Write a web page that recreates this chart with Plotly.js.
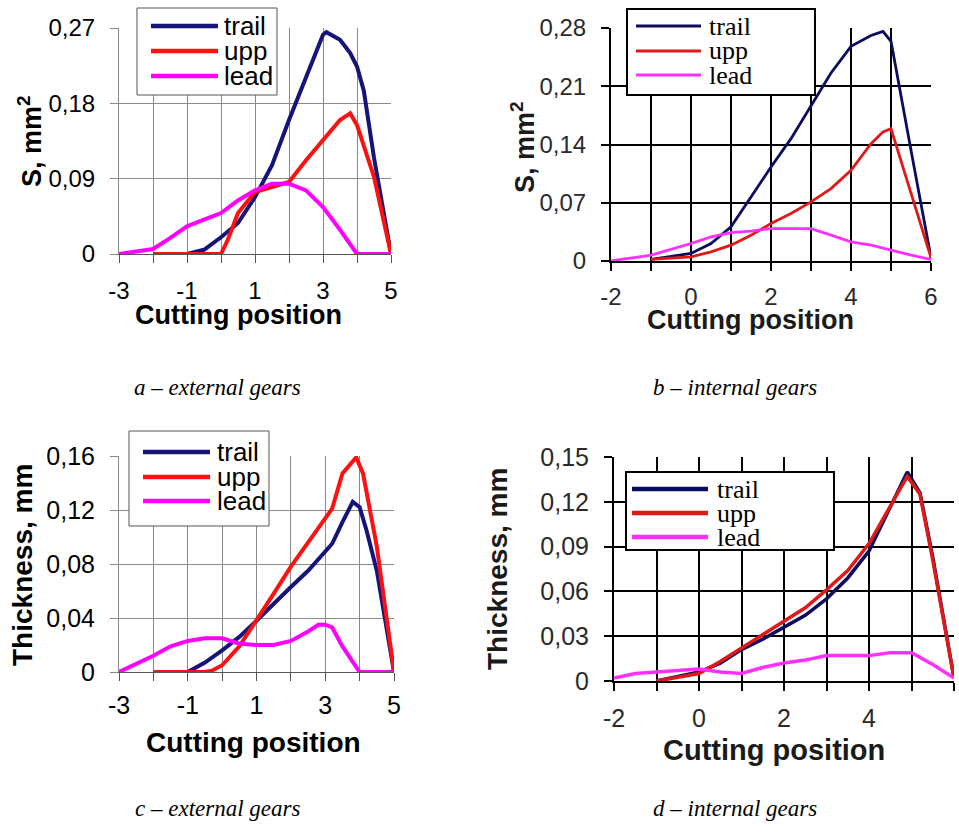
<!DOCTYPE html>
<html>
<head>
<meta charset="utf-8">
<script src="https://cdn.plot.ly/plotly-3.0.1.min.js"></script>
<style>html,body{margin:0;padding:0;background:#fff;}#chart{width:959px;height:833px;}</style>
</head>
<body>
<div id="chart"></div>
<script>
// ---------- Data ----------
const seriesNames = ['trail', 'upp', 'lead'];

// Panel a: external gears, S (mm^2)
const aTrailX = [-1, -0.5, 0, 0.5, 1, 1.5, 2, 2.5, 2.8, 3, 3.1, 3.5, 3.8, 4, 4.2, 4.5, 5];
const aTrailY = [0, 0.005, 0.020, 0.037, 0.068, 0.106, 0.160, 0.211, 0.243, 0.262, 0.265, 0.256, 0.240, 0.224, 0.195, 0.115, 0];
const aUppX = [-2, -1, 0, 0.2, 0.5, 1, 1.5, 2, 2.5, 3, 3.5, 3.8, 4, 4.5, 5];
const aUppY = [0, 0, 0, 0.017, 0.049, 0.074, 0.080, 0.086, 0.112, 0.136, 0.160, 0.168, 0.154, 0.092, 0];
const aLeadX = [-3, -2.5, -2, -1.5, -1, -0.5, 0, 0.5, 1, 1.5, 2, 2.5, 3, 3.5, 4, 4.5, 5];
const aLeadY = [0, 0.003, 0.006, 0.019, 0.033, 0.041, 0.049, 0.064, 0.076, 0.084, 0.084, 0.076, 0.056, 0.029, 0, 0, 0];

// Panel b: internal gears, S (mm^2)
const bTrailX = [-1, 0, 0.5, 1, 1.5, 2, 2.5, 3, 3.5, 4, 4.5, 4.8, 5, 5.5, 6];
const bTrailY = [0.002, 0.009, 0.021, 0.041, 0.077, 0.113, 0.147, 0.186, 0.226, 0.258, 0.271, 0.276, 0.264, 0.133, 0.004];
const bUppX = [-1, 0, 0.5, 1, 1.5, 2, 2.5, 3, 3.5, 4, 4.5, 4.8, 5, 5.5, 6];
const bUppY = [0.002, 0.005, 0.011, 0.019, 0.031, 0.045, 0.057, 0.071, 0.087, 0.109, 0.141, 0.155, 0.159, 0.081, 0.004];
const bLeadX = [-2, -1, 0, 0.5, 1, 1.5, 2, 2.5, 3, 3.5, 4, 4.5, 5, 5.5, 6];
const bLeadY = [0, 0.007, 0.021, 0.029, 0.034, 0.036, 0.039, 0.039, 0.039, 0.031, 0.023, 0.019, 0.013, 0.007, 0.002];

// Panel c: external gears, thickness (mm)
const cTrailX = [-1, -0.5, 0, 0.5, 1, 1.5, 2, 2.5, 3, 3.2, 3.5, 3.8, 4, 4.2, 4.5, 5];
const cTrailY = [0, 0.007, 0.016, 0.026, 0.038, 0.051, 0.063, 0.075, 0.089, 0.095, 0.111, 0.126, 0.122, 0.105, 0.075, 0];
const cUppX = [-2, -0.5, -0.3, 0, 0.5, 1, 1.5, 2, 2.5, 3, 3.2, 3.5, 3.9, 4.1, 4.5, 5];
const cUppY = [0, 0, 0.001, 0.005, 0.019, 0.038, 0.058, 0.078, 0.096, 0.114, 0.121, 0.147, 0.159, 0.147, 0.093, 0];
const cLeadX = [-3, -2.5, -2, -1.5, -1, -0.5, 0, 0.5, 1, 1.5, 2, 2.5, 2.8, 3, 3.2, 3.5, 4, 4.5, 5];
const cLeadY = [0, 0.006, 0.012, 0.019, 0.023, 0.025, 0.025, 0.021, 0.020, 0.020, 0.023, 0.030, 0.035, 0.035, 0.033, 0.019, 0, 0, 0];

// Panel d: internal gears, thickness (mm)
const dTrailX = [-1, 0, 0.5, 1, 1.5, 2, 2.5, 3, 3.5, 4, 4.5, 4.9, 5.2, 5.5, 6];
const dTrailY = [0, 0.006, 0.012, 0.021, 0.028, 0.036, 0.044, 0.055, 0.069, 0.087, 0.116, 0.140, 0.126, 0.083, 0.002];
const dUppX = [-1, 0, 0.5, 1, 1.5, 2, 2.5, 3, 3.5, 4, 4.5, 4.9, 5.2, 5.5, 6];
const dUppY = [0, 0.005, 0.013, 0.022, 0.031, 0.040, 0.049, 0.061, 0.074, 0.092, 0.117, 0.137, 0.125, 0.081, 0.002];
const dLeadX = [-2, -1.5, -1, -0.5, 0, 0.5, 1, 1.5, 2, 2.5, 3, 3.5, 4, 4.5, 5, 5.5, 6];
const dLeadY = [0.002, 0.005, 0.006, 0.007, 0.008, 0.006, 0.005, 0.009, 0.012, 0.014, 0.017, 0.017, 0.017, 0.019, 0.019, 0.011, 0.002];

// Tick labels
const xTicksExt = [-3, -1, 1, 3, 5];
const xTicksExtMinor = [-2, 0, 2, 4];
const xTicksInt = [-2, 0, 2, 4, 6];
const xTicksIntMinor = [-1, 1, 3, 5];
const aYTicks = [0, 0.09, 0.18, 0.27];
const aYText = ['0', '0,09', '0,18', '0,27'];
const bYTicks = [0, 0.07, 0.14, 0.21, 0.28];
const bYText = ['0', '0,07', '0,14', '0,21', '0,28'];
const cYTicks = [0, 0.04, 0.08, 0.12, 0.16];
const cYText = ['0', '0,04', '0,08', '0,12', '0,16'];
const dYTicks = [0, 0.03, 0.06, 0.09, 0.12, 0.15];
const dYText = ['0', '0,03', '0,06', '0,09', '0,12', '0,15'];

const xTitle = 'Cutting position';
const yTitleS = 'S, mm<sup>2</sup>';
const yTitleT = 'Thickness, mm';
const captions = ['a – external gears', 'b – internal gears', 'c – external gears', 'd – internal gears'];

// ---------- Styles ----------
const SANS = 'Liberation Sans, Arial, sans-serif';
const SERIF = 'Liberation Serif, Times New Roman, serif';
const colExt = ['#14147a', '#ff1010', '#ff00ff'];
const colInt = ['#0b0b60', '#e01818', '#ff30ff'];

function mk(x, y, name, color, width, ax) {
  return {x: x, y: y, name: name, type: 'scatter', mode: 'lines', showlegend: false,
    line: {color: color, width: width}, xaxis: 'x' + ax, yaxis: 'y' + ax};
}
const traces = [
  mk(aTrailX, aTrailY, seriesNames[0], colExt[0], 4, ''),
  mk(aUppX, aUppY, seriesNames[1], colExt[1], 4, ''),
  mk(aLeadX, aLeadY, seriesNames[2], colExt[2], 4, ''),
  mk(bTrailX, bTrailY, seriesNames[0], colInt[0], 2.8, '2'),
  mk(bUppX, bUppY, seriesNames[1], colInt[1], 2.8, '2'),
  mk(bLeadX, bLeadY, seriesNames[2], colInt[2], 2.8, '2'),
  mk(cTrailX, cTrailY, seriesNames[0], colExt[0], 4, '3'),
  mk(cUppX, cUppY, seriesNames[1], colExt[1], 4, '3'),
  mk(cLeadX, cLeadY, seriesNames[2], colExt[2], 4, '3'),
  mk(dTrailX, dTrailY, seriesNames[0], colInt[0], 3.5, '4'),
  mk(dUppX, dUppY, seriesNames[1], colInt[1], 3.5, '4'),
  mk(dLeadX, dLeadY, seriesNames[2], colInt[2], 3.5, '4')
];

const W = 959, H = 833;
function px(x) { return x / W; }
function py(y) { return 1 - y / H; }

function xAxis(dom, range, vals, minor, ext, anchor, fs, standoff) {
  const gc = ext ? '#8a8a8a' : '#000', gw = ext ? 1 : 2, tc = ext ? '#555' : '#000';
  return {domain: dom, range: range, anchor: anchor, tickmode: 'array', tickvals: vals, ticktext: vals.map(String),
    showgrid: true, gridcolor: gc, gridwidth: gw,
    minor: {tickmode: 'array', tickvals: minor, showgrid: true, gridcolor: gc, gridwidth: gw,
      ticks: 'outside', ticklen: 8, tickwidth: ext ? 1 : 2, tickcolor: tc},
    zeroline: false, showline: true, linecolor: tc, linewidth: ext ? 1 : 2,
    ticks: 'outside', ticklen: 8, tickwidth: ext ? 1 : 2, tickcolor: tc,
    ticklabelstandoff: standoff,
    tickfont: {family: SANS, size: fs, color: ext ? '#000' : '#2a2a2a'},
    fixedrange: true};
}
function yAxis(dom, range, vals, text, ext, anchor, fs) {
  const gc = ext ? '#8a8a8a' : '#000', tc = ext ? '#8a8a8a' : '#000';
  return {domain: dom, range: range, anchor: anchor, tickmode: 'array', tickvals: vals, ticktext: text,
    showgrid: true, gridcolor: gc, gridwidth: ext ? 1 : 2,
    zeroline: false, showline: true, linecolor: tc, linewidth: ext ? 1 : 2,
    ticks: 'outside', ticklen: 8, tickwidth: ext ? 1 : 2, tickcolor: tc,
    ticklabelstandoff: 10,
    tickfont: {family: SANS, size: fs, color: ext ? '#000' : '#2a2a2a'},
    fixedrange: true};
}
function note(text, x, y, fs, opts) {
  return Object.assign({text: text, xref: 'paper', yref: 'paper', x: px(x), y: py(y), xanchor: 'center', yanchor: 'middle',
    showarrow: false, font: {family: SANS, size: fs, weight: 700, color: '#000'}}, opts || {});
}
function cap(text, x, y) {
  return note(text, x, y, 23, {font: {family: SERIF, size: 23, style: 'italic', color: '#000'}});
}

// Custom legend boxes (drawn like the spreadsheet legends)
const shapes = [], annotations = [];
function legendBox(box, lineX, rowsY, textX, colors, lw, serif, fs, border, bw) {
  shapes.push({type: 'rect', xref: 'paper', yref: 'paper', x0: px(box[0]), x1: px(box[1]), y0: py(box[3]), y1: py(box[2]),
    line: {color: border, width: bw}, fillcolor: '#fff', layer: 'above'});
  for (let i = 0; i < seriesNames.length; i++) {
    shapes.push({type: 'line', xref: 'paper', yref: 'paper', x0: px(lineX[0]), x1: px(lineX[1]), y0: py(rowsY[i]), y1: py(rowsY[i]),
      line: {color: colors[i], width: lw}, layer: 'above'});
    annotations.push({text: seriesNames[i], xref: 'paper', yref: 'paper', x: px(textX), y: py(rowsY[i]),
      xanchor: 'left', yanchor: 'middle', showarrow: false,
      font: {family: serif ? SERIF : SANS, size: fs, color: '#000'}});
  }
}
legendBox([137, 277, 8, 95], [151, 218], [26, 51, 76], 222, colExt, 4.5, false, 26, '#555', 1);
legendBox([627, 815, 9, 95], [636, 701], [26, 51, 75], 707, colInt, 3, true, 26, '#000', 2);
legendBox([129, 269, 431, 526], [143, 210], [452, 477, 501], 215, colExt, 4.5, false, 26, '#555', 1);
legendBox([626, 834, 472, 550], [632, 708], [489, 513, 537], 715, colInt, 4.5, true, 26, '#000', 2);

// Axis titles
const darkT = '#1a1a1a';
annotations.push(note(xTitle, 238, 315, 27));
annotations.push(note(yTitleS, 30, 141, 27, {textangle: -90}));
annotations.push(note(xTitle, 750, 320, 27, {font: {family: SANS, size: 27, weight: 700, color: darkT}}));
annotations.push(note(yTitleS, 523, 147, 27, {textangle: -90, font: {family: SANS, size: 27, weight: 700, color: darkT}}));
annotations.push(note(xTitle, 253, 742, 28));
annotations.push(note(yTitleT, 22, 565, 28, {textangle: -90}));
annotations.push(note(xTitle, 774, 750, 29, {font: {family: SANS, size: 29, weight: 700, color: darkT}}));
annotations.push(note(yTitleT, 497, 569, 28, {textangle: -90, font: {family: SANS, size: 28, weight: 700, color: darkT}}));

// Captions
annotations.push(cap(captions[0], 217, 387));
annotations.push(cap(captions[1], 735, 387));
annotations.push(cap(captions[2], 217, 808));
annotations.push(cap(captions[3], 735, 808));

const layout = {
  width: W, height: H, margin: {l: 0, r: 0, t: 0, b: 0},
  paper_bgcolor: '#fff', plot_bgcolor: '#fff', showlegend: false,
  xaxis: xAxis([px(119), px(391)], [-3, 5], xTicksExt, xTicksExtMinor, true, 'y', 24, 7),
  yaxis: yAxis([py(254), py(28)], [0, 0.27], aYTicks, aYText, true, 'x', 24),
  xaxis2: xAxis([px(611), px(931)], [-2, 6], xTicksInt, xTicksIntMinor, false, 'y2', 24, 5),
  yaxis2: yAxis([py(261), py(28)], [0, 0.28], bYTicks, bYText, false, 'x2', 24),
  xaxis3: xAxis([px(119), px(394)], [-3, 5], xTicksExt, xTicksExtMinor, true, 'y3', 25, 3),
  yaxis3: yAxis([py(672), py(456)], [0, 0.16], cYTicks, cYText, true, 'x3', 25),
  xaxis4: xAxis([px(614), px(954)], [-2, 6], xTicksInt, xTicksIntMinor, false, 'y4', 25, 6),
  yaxis4: yAxis([py(681), py(457)], [0, 0.15], dYTicks, dYText, false, 'x4', 25),
  shapes: shapes,
  annotations: annotations
};

Plotly.newPlot('chart', traces, layout, {staticPlot: true, displayModeBar: false});
</script>
</body>
</html>
